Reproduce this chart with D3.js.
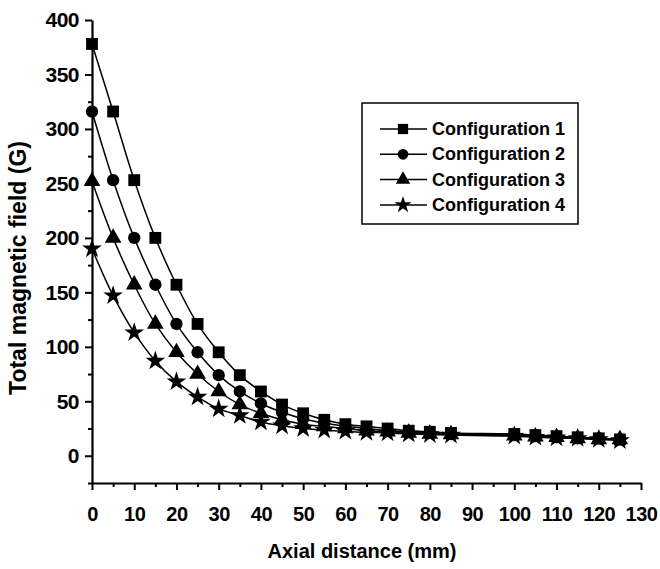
<!DOCTYPE html>
<html>
<head>
<meta charset="utf-8">
<script src="https://cdn.jsdelivr.net/npm/d3@7"></script>
<style>
  body { margin: 0; background: #fff; }
  svg { display: block; }
  text { font-family: "Liberation Sans", Arial, sans-serif; fill: #000; }
</style>
</head>
<body>
<div id="chart"></div>
<script>
const distances = [0, 5, 10, 15, 20, 25, 30, 35, 40, 45, 50, 55, 60, 65, 70, 75, 80, 85, 100, 105, 110, 115, 120, 125]

const config1 = [378, 316, 253, 200, 157, 121, 95, 74, 59, 47, 39, 33, 29, 27, 25, 23, 22, 21, 20, 19, 18, 17, 16, 15]
const config2 = [316, 253, 200, 157, 121, 95, 74, 59, 48, 40, 34, 30, 27, 25, 23, 22, 21, 20, 19, 18, 17, 16, 16, 15]
const config3 = [252, 200, 157, 121, 95, 75, 59, 47, 39, 33, 29, 27, 25, 23, 22, 21, 20, 19.5, 18.5, 17.5, 17, 16, 15, 15]
const config4 = [190, 147, 113, 87, 68, 54, 43, 37, 31, 27.5, 25, 23.5, 22.5, 21.5, 21, 20, 19.5, 19, 18, 17, 16.5, 16, 15, 14]

const seriesNames = ["Configuration 1", "Configuration 2", "Configuration 3", "Configuration 4"]
const seriesValues = [config1, config2, config3, config4]

const xTicks = d3.range(0, 131, 10)
const yTicks = [0, 50, 100, 150, 200, 250, 300, 350, 400]

const width = 660
const height = 569

const svg = d3.select("#chart").append("svg")
    .attr("width", width)
    .attr("height", height)

const x = d3.scaleLinear().domain([0, 130]).range([92, 641])
const y = d3.scaleLinear().domain([-25, 400]).range([483, 20])

const symbols = [d3.symbolSquare, d3.symbolCircle, d3.symbolTriangle, d3.symbolStar]
const symbolSizes = [140, 120, 120, 120]

// minor ticks first
svg.append("g")
    .attr("transform", `translate(0,${y(-25)})`)
    .call(d3.axisBottom(x).tickValues(d3.range(5, 130, 10)).tickSize(4).tickFormat(""))
    .call(g => g.select(".domain").remove())
    .selectAll("line").attr("stroke-width", 2)

svg.append("g")
    .attr("transform", `translate(${x(0)},0)`)
    .call(d3.axisLeft(y).tickValues(d3.range(-25, 400, 50)).tickSize(4).tickFormat(""))
    .call(g => g.select(".domain").remove())
    .selectAll("line").attr("stroke-width", 2)

const xAxis = svg.append("g")
    .attr("transform", `translate(0,${y(-25)})`)
    .call(d3.axisBottom(x).tickValues(xTicks).tickSize(7).tickSizeOuter(0).tickPadding(17))
xAxis.select(".domain").attr("stroke-width", 2.2)
xAxis.selectAll(".tick line").attr("stroke-width", 2)
xAxis.selectAll("text")
    .style("font-size", "20px")
    .style("font-weight", "bold")
    .style("letter-spacing", "-0.5px")

const yAxis = svg.append("g")
    .attr("transform", `translate(${x(0)},0)`)
    .call(d3.axisLeft(y).tickValues(yTicks).tickSize(7).tickSizeOuter(0).tickPadding(6))
yAxis.select(".domain").attr("stroke-width", 2.2)
yAxis.selectAll(".tick line").attr("stroke-width", 2)
yAxis.selectAll("text")
    .style("font-size", "21px")
    .style("font-weight", "bold")
    .style("letter-spacing", "-0.5px")

svg.append("text")
    .attr("x", 362)
    .attr("y", 558)
    .attr("text-anchor", "middle")
    .style("font-size", "20px")
    .style("font-weight", "bold")
    .text("Axial distance (mm)")

svg.append("text")
    .attr("transform", "translate(26,268) rotate(-90)")
    .attr("text-anchor", "middle")
    .style("font-size", "23px")
    .style("font-weight", "bold")
    .text("Total magnetic field (G)")

const line = d3.line()
    .x(d => x(d.x))
    .y(d => y(d.y))
    .curve(d3.curveCatmullRom)

seriesValues.forEach((vals, i) => {
    const pts = distances.map((dx, j) => ({ x: dx, y: vals[j] }))
    svg.append("path")
        .datum(pts)
        .attr("fill", "none")
        .attr("stroke", "#000")
        .attr("stroke-width", 1.5)
        .attr("d", line)
    svg.append("g")
        .selectAll("path")
        .data(pts)
        .join("path")
        .attr("transform", d => `translate(${x(d.x)},${y(d.y)})`)
        .attr("d", d3.symbol().type(symbols[i]).size(symbolSizes[i]))
        .attr("fill", "#000")
})

// legend
const legend = svg.append("g")
legend.append("rect")
    .attr("x", 362).attr("y", 103)
    .attr("width", 216).attr("height", 121)
    .attr("fill", "#fff")
    .attr("stroke", "#000")
    .attr("stroke-width", 1.5)

seriesNames.forEach((name, i) => {
    const ly = 129 + i * 25.3
    legend.append("line")
        .attr("x1", 380).attr("x2", 427)
        .attr("y1", ly).attr("y2", ly)
        .attr("stroke", "#000")
        .attr("stroke-width", 1.5)
    legend.append("path")
        .attr("transform", `translate(403,${ly})`)
        .attr("d", d3.symbol().type(symbols[i]).size(symbolSizes[i] * 0.75))
        .attr("fill", "#000")
    legend.append("text")
        .attr("x", 432)
        .attr("y", ly + 6)
        .style("font-size", "18px")
        .style("font-weight", "bold")
        .text(name)
})
</script>
</body>
</html>
